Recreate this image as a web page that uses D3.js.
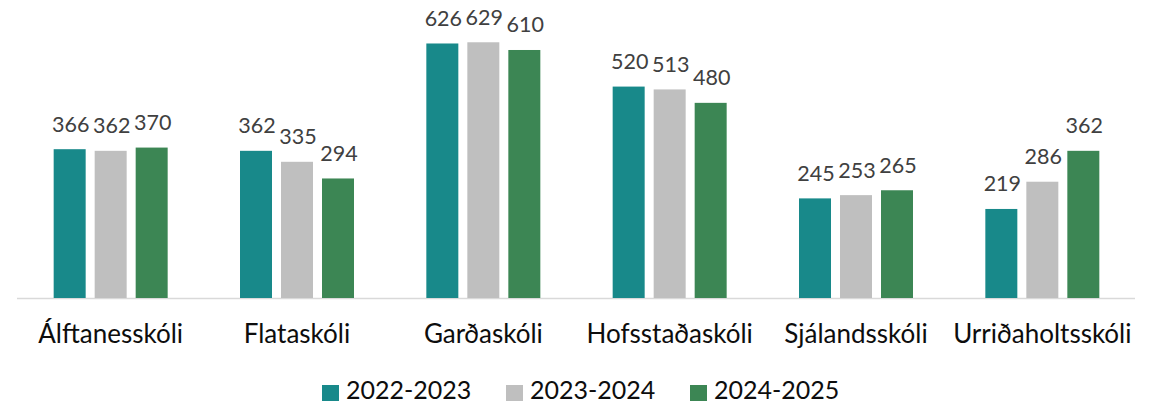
<!DOCTYPE html>
<html>
<head>
<meta charset="utf-8">
<script src="https://cdn.jsdelivr.net/npm/d3@7"></script>
<style>
  body { margin: 0; background: #fff; }
  text { font-family: Lato, "Open Sans", sans-serif; }
</style>
</head>
<body>
<svg id="chart" width="1158" height="404"></svg>
<script>
// schools and yearly counts
var schools = ["Álftanesskóli", "Flataskóli", "Garðaskóli", "Hofsstaðaskóli", "Sjálandsskóli", "Urriðaholtsskóli"];
var years = ["2022-2023", "2023-2024", "2024-2025"];
var v2022 = [366, 362, 626, 520, 245, 219];
var v2023 = [362, 335, 629, 513, 253, 286];
var v2024 = [370, 294, 610, 480, 265, 362];
var colors = ["#18898a", "#bfbfbf", "#3c8654"];

var values = [v2022, v2023, v2024];

var svg = d3.select("#chart");
var baseY = 298;

var x0 = d3.scaleBand().domain(schools).range([17.5, 1135.5]).padding(0);
var x1 = d3.scaleBand().domain(years).range([0, 114]).paddingInner(9 / 41).paddingOuter(0);
var y = d3.scaleLinear().domain([0, 700]).range([baseY, 13.4]);

// axis line
svg.append("line")
  .attr("x1", 17).attr("x2", 1135)
  .attr("y1", baseY + 0.5).attr("y2", baseY + 0.5)
  .attr("stroke", "#d9d9d9").attr("stroke-width", 1.5);

var groups = svg.selectAll("g.school")
  .data(schools)
  .enter().append("g")
  .attr("class", "school")
  .attr("transform", function(d) {
    return "translate(" + (x0(d) + (x0.bandwidth() - 114) / 2) + ",0)";
  });

groups.each(function(s, si) {
  var g = d3.select(this);
  years.forEach(function(yr, yi) {
    var val = values[yi][si];
    g.append("rect")
      .attr("x", x1(yr))
      .attr("y", y(val))
      .attr("width", x1.bandwidth())
      .attr("height", baseY - y(val))
      .attr("fill", colors[yi]);
    g.append("text")
      .attr("x", x1(yr) + x1.bandwidth() / 2 + 1)
      .attr("y", y(val) - 17.5)
      .attr("text-anchor", "middle")
      .attr("font-size", "21.5px")
      .attr("fill", "#404040")
      .text(val);
  });
});

// category labels
svg.selectAll("text.cat")
  .data(schools)
  .enter().append("text")
  .attr("class", "cat")
  .attr("x", function(d) { return x0(d) + x0.bandwidth() / 2; })
  .attr("y", 343)
  .attr("text-anchor", "middle")
  .attr("font-size", "26px")
  .attr("fill", "#0d0d0d")
  .text(function(d) { return d; });

// legend
var legend = svg.selectAll("g.leg")
  .data(years)
  .enter().append("g")
  .attr("class", "leg")
  .attr("transform", function(d, i) { return "translate(" + (322 + i * 184) + ",385)"; });

legend.append("rect")
  .attr("width", 17).attr("height", 16)
  .attr("fill", function(d, i) { return colors[i]; });

legend.append("text")
  .attr("x", 24).attr("y", 13.5)
  .attr("font-size", "25px")
  .attr("fill", "#0d0d0d")
  .text(function(d) { return d; });
</script>
</body>
</html>
